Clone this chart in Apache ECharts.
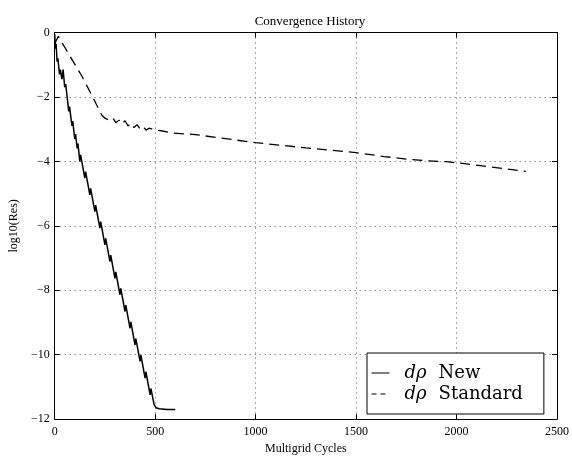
<!DOCTYPE html>
<html>
<head>
<meta charset="utf-8">
<script src="https://cdn.jsdelivr.net/npm/echarts@6/dist/echarts.min.js"></script>
<style>
html,body{margin:0;padding:0;background:#fff;}
#chart{width:572px;height:460px;}
</style>
</head>
<body>
<div id="chart"></div>
<script>
// ---- data ----
var xTicks = [0, 500, 1000, 1500, 2000, 2500];
var yTicks = [-12, -10, -8, -6, -4, -2, 0];

var newX = [0, 4, 7, 12, 16, 24, 28, 36, 42, 50, 55, 70, 74, 86, 90, 100, 104, 112, 116, 125, 129, 150, 154, 175, 179, 200, 204, 225, 229, 250, 254, 275, 279, 300, 304, 325, 329, 350, 354, 375, 379, 400, 404, 425, 429, 450, 454, 475, 479, 495, 505, 520, 560, 600];
var newY = [-0.05, -0.5, -0.35, -0.9, -0.8, -1.3, -1.15, -1.45, -1.15, -1.7, -1.6, -2.45, -2.3, -2.9, -2.75, -3.3, -3.15, -3.6, -3.45, -4.0, -3.8, -4.52, -4.32, -5.04, -4.84, -5.56, -5.36, -6.07, -5.87, -6.59, -6.39, -7.11, -6.91, -7.63, -7.43, -8.14, -7.94, -8.66, -8.46, -9.18, -8.98, -9.70, -9.50, -10.21, -10.01, -10.73, -10.53, -11.25, -11.05, -11.55, -11.65, -11.68, -11.70, -11.70];

var stdX = [0, 18, 77, 135, 185, 234, 250, 270, 290, 305, 320, 335, 350, 365, 380, 395, 410, 425, 440, 455, 470, 500, 530, 590, 700, 1000, 1250, 1500, 1640, 1750, 1850, 1950, 2050, 2150, 2250, 2345];
var stdY = [-0.35, -0.12, -0.74, -1.35, -1.95, -2.56, -2.66, -2.72, -2.66, -2.80, -2.72, -2.84, -2.74, -2.90, -2.82, -2.95, -2.86, -2.99, -2.92, -3.03, -2.97, -3.03, -3.05, -3.12, -3.17, -3.42, -3.58, -3.73, -3.85, -3.93, -3.98, -4.01, -4.08, -4.16, -4.24, -4.31];

var seriesNames = ['New', 'Standard'];
var titleText = 'Convergence History';
var xTitle = 'Multigrid Cycles';
var yTitle = 'log10(Res)';

function pairs(xs, ys) { return xs.map(function (x, i) { return [x, ys[i]]; }); }

var SERIF = 'Liberation Serif';
var tickFont = { fontFamily: SERIF, fontSize: 12, color: '#000' };
var minus = function (v) { return String(v).replace('-', '\u2212'); };

var chart = echarts.init(document.getElementById('chart'), null, { renderer: 'canvas' });
chart.setOption({
  animation: false,
  backgroundColor: '#fff',
  title: {
    text: titleText, left: 305, top: 10, textAlign: 'center',
    textStyle: { fontFamily: SERIF, fontSize: 13, fontWeight: 'normal', color: '#000' }
  },
  grid: { left: 52.7, right: 14.3, top: 32.5, bottom: 32.7 },
  xAxis: [{
    type: 'value', min: 0, max: 2500, interval: 500, position: 'bottom',
    name: xTitle, nameLocation: 'middle', nameGap: 23,
    nameTextStyle: { fontFamily: SERIF, fontSize: 12, color: '#000' },
    axisLine: { show: true, onZero: false, lineStyle: { color: '#000', width: 1 } },
    axisTick: { show: true, inside: true, length: 5, lineStyle: { color: '#000' } },
    axisLabel: Object.assign({ margin: 7, formatter: minus }, tickFont),
    splitLine: { show: true, lineStyle: { color: '#555', type: [1, 4], width: 1 } }
  }, {
    type: 'value', min: 0, max: 2500, interval: 500, position: 'top',
    axisLine: { show: true, onZero: false, lineStyle: { color: '#000', width: 1 } },
    axisTick: { show: true, inside: true, length: 5, lineStyle: { color: '#000' } },
    axisLabel: { show: false }, splitLine: { show: false }
  }],
  yAxis: [{
    type: 'value', min: -12, max: 0, interval: 2, position: 'left',
    name: yTitle, nameLocation: 'middle', nameGap: 28, nameRotate: 90,
    nameTextStyle: { fontFamily: SERIF, fontSize: 12, color: '#000' },
    axisLine: { show: true, onZero: false, lineStyle: { color: '#000', width: 1 } },
    axisTick: { show: true, inside: true, length: 5, lineStyle: { color: '#000' } },
    axisLabel: Object.assign({ margin: 5, formatter: minus }, tickFont),
    splitLine: { show: true, lineStyle: { color: '#555', type: [1, 4], width: 1 } }
  }, {
    type: 'value', min: -12, max: 0, interval: 2, position: 'right',
    axisLine: { show: true, onZero: false, lineStyle: { color: '#000', width: 1 } },
    axisTick: { show: true, inside: true, length: 5, lineStyle: { color: '#000' } },
    axisLabel: { show: false }, splitLine: { show: false }
  }],
  legend: {
    orient: 'vertical', left: 367, top: 353,
    backgroundColor: '#fff', borderColor: '#000', borderWidth: 1, borderRadius: 0,
    padding: [11, 21, 11, 4], itemWidth: 18, itemHeight: 12, itemGap: 3,
    itemStyle: { color: 'rgba(0,0,0,0)', borderWidth: 0, opacity: 0 },
    lineStyle: { color: '#000', width: 1 },
    data: [
      { name: seriesNames[0] },
      { name: seriesNames[1], lineStyle: { type: [5, 4] } }
    ],
    formatter: function (name) { return '{i|d\u03c1}{t|' + name + '}'; },
    textStyle: {
      color: '#000',
      rich: {
        i: { fontFamily: 'DejaVu Serif', fontStyle: 'italic', fontSize: 18, lineHeight: 21, padding: [0, 0, 0, 10], color: '#000' },
        t: { fontFamily: 'DejaVu Serif', fontSize: 18, lineHeight: 21, padding: [0, 0, 0, 12], color: '#000' }
      }
    }
  },
  series: [{
    name: seriesNames[0], type: 'line', xAxisIndex: 0, yAxisIndex: 0,
    data: pairs(newX, newY), symbol: 'none',
    lineStyle: { color: '#000', width: 1.5, type: 'solid' }, itemStyle: { color: '#000' }
  }, {
    name: seriesNames[1], type: 'line', xAxisIndex: 0, yAxisIndex: 0,
    data: pairs(stdX, stdY), symbol: 'none',
    lineStyle: { color: '#000', width: 1.3, type: [10, 6] }, itemStyle: { color: '#000' }
  }]
});
</script>
</body>
</html>
